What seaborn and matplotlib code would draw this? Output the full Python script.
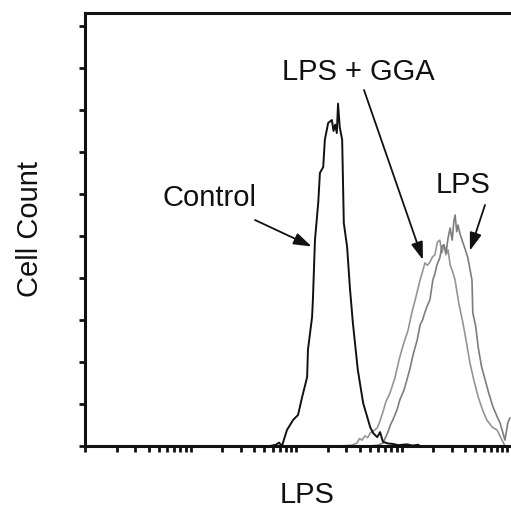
import numpy as np
import pandas as pd
import matplotlib
matplotlib.use("Agg")
import matplotlib.pyplot as plt
import seaborn as sns

# Flow cytometry histograms: channel (256 channels per decade, 4 decades) vs cell count
control_ch = [449, 463, 471, 478, 490, 505, 517, 527, 539, 541, 551, 553, 558, 566, 570, 578, 582,
              590, 599, 603, 607, 611, 614, 618, 624, 628, 636, 643, 650, 662, 675, 692, 699,
              709, 716, 723, 735, 747, 760, 781, 795, 808, 813]
control_ct = [0.0, 0.3, 0.8, 0.0, 3.8, 6.2, 7.4, 11.7, 16.4, 22.9, 30.7, 34.8, 49.0, 58.0, 65.0, 66.4,
              72.9, 76.9, 77.6, 75.0, 76.5, 74.5, 81.5, 76.0, 72.9, 53.1, 47.4, 37.4, 29.3, 18.1,
              10.2, 4.5, 3.1, 2.1, 3.3, 1.0, 0.6, 0.5, 0.2, 0.4, 0.1, 0.3, 0.0]

gga_ch = [619, 648, 660, 666, 672, 679, 686, 692, 700, 709, 716, 723, 730, 740, 752, 762, 772, 784,
          793, 803, 813, 819, 825, 831, 837, 843, 849, 855, 861, 866, 871, 876, 881, 886, 892,
          898, 907, 917, 925, 934, 944, 954, 965, 975, 988, 1000, 1012, 1019]
gga_ct = [0.0, 0.2, 0.7, 1.8, 1.4, 2.4, 2.0, 3.1, 3.6, 4.3, 6.0, 8.1, 10.5, 12.6, 16.2, 20.5, 24.0,
          27.6, 31.7, 35.5, 39.5, 41.5, 43.6, 43.0, 43.8, 45.0, 45.5, 48.5, 49.0, 46.0, 47.9,
          45.5, 46.7, 43.1, 41.5, 39.5, 34.0, 29.3, 25.0, 19.8, 15.5, 11.7, 8.5, 6.2, 4.5, 3.8,
          1.4, 0.0]

lps_ch = [692, 711, 723, 729, 735, 741, 747, 757, 764, 774, 781, 789, 796, 806, 813, 819, 825, 831,
          837, 844, 849, 854, 861, 866, 871, 876, 881, 886, 891, 895, 898, 902, 905, 910, 915,
          922, 929, 939, 941, 948, 954, 962, 971, 980, 990, 1000, 1007, 1013, 1019, 1026, 1031]
lps_ct = [0.0, 0.2, 0.7, 2.0, 3.3, 5.0, 6.2, 8.6, 11.0, 13.3, 15.7, 18.6, 21.7, 25.2, 28.8, 30.0,
          31.9, 33.5, 34.8, 39.5, 41.0, 43.1, 44.8, 47.5, 47.9, 46.0, 49.5, 51.9, 49.0, 53.5,
          55.0, 51.0, 52.6, 50.5, 49.0, 47.0, 44.8, 39.5, 31.7, 28.5, 23.6, 19.0, 15.7, 12.5,
          9.3, 7.0, 5.5, 3.5, 1.4, 5.5, 6.7]

y_ticks = [0, 10, 20, 30, 40, 50, 60, 70, 80, 90, 100]


def to_frame(ch, ct, name):
    ch = np.asarray(ch, dtype=float)
    return pd.DataFrame({"intensity": 10 ** (ch / 256.0), "count": ct, "sample": name})


sns.set_theme(style="ticks")
plt.rcParams["font.family"] = ["Liberation Sans", "DejaVu Sans"]

fig = plt.figure(figsize=(5.11, 5.08), dpi=100)
ax = fig.add_axes([85 / 511, 1 - 446 / 508, 1 - 85 / 511, (446 - 12.5) / 508])

colors = {"Control": "#111111", "LPS + GGA": "#959595", "LPS": "#7d7d7d"}
for ch, ct, name, lw in [(gga_ch, gga_ct, "LPS + GGA", 1.2),
                         (lps_ch, lps_ct, "LPS", 1.2),
                         (control_ch, control_ct, "Control", 1.4)]:
    df = to_frame(ch, ct, name)
    sns.lineplot(data=df, x="intensity", y="count", ax=ax, color=colors[name],
                 lw=lw, estimator=None, sort=False, legend=False)

ax.set_xscale("log")
ax.set_xlim(1, 10 ** (1033.7 / 256))
ax.set_ylim(0, 103.2)
ax.set_yticks(y_ticks)
ax.set_yticklabels([])
ax.xaxis.set_major_locator(matplotlib.ticker.LogLocator(base=10, numticks=10))
ax.xaxis.set_minor_locator(matplotlib.ticker.LogLocator(base=10, subs=np.arange(2, 10), numticks=50))
ax.xaxis.set_major_formatter(matplotlib.ticker.NullFormatter())
ax.xaxis.set_minor_formatter(matplotlib.ticker.NullFormatter())
ax.tick_params(axis="both", which="both", direction="out", length=4.5, width=2.0, color="#111111")

for s in ["left", "bottom", "top"]:
    ax.spines[s].set_linewidth(2.2)
    ax.spines[s].set_color("#111111")
ax.spines["right"].set_visible(False)

ax.set_xlabel("LPS", fontsize=21, color="#111111")
ax.set_ylabel("Cell Count", fontsize=21, color="#111111")
ax.xaxis.set_label_coords((307 - 85) / 426, -(495 - 446) / 433.5)
ax.yaxis.set_label_coords(-(85 - 30) / 426, 0.5)
ax.xaxis.label.set_verticalalignment("center")
ax.yaxis.label.set_verticalalignment("center")


def px(x, y):
    # figure-pixel position for annotation tails
    return (x, 508 - y)


arrow = dict(arrowstyle="-|>,head_length=0.9,head_width=0.3", color="#111111", lw=1.3,
             shrinkA=0, shrinkB=0)

ax.text(210, 508 - 198, "Control", transform=None, fontsize=21, ha="center", va="center", color="#111111")
ax.annotate("", xy=(10 ** (550 / 256), 47.5), xytext=px(255, 220), textcoords="figure pixels",
            arrowprops=arrow)

ax.text(358, 508 - 72, "LPS + GGA", transform=None, fontsize=21, ha="center", va="center", color="#111111")
ax.annotate("", xy=(10 ** (820 / 256), 44.3), xytext=px(364, 90), textcoords="figure pixels",
            arrowprops=arrow)

ax.text(463, 508 - 185, "LPS", transform=None, fontsize=21, ha="center", va="center", color="#111111")
ax.annotate("", xy=(10 ** (934 / 256), 46.5), xytext=px(485, 205), textcoords="figure pixels",
            arrowprops=arrow)

fig.savefig("out.png", dpi=100)
